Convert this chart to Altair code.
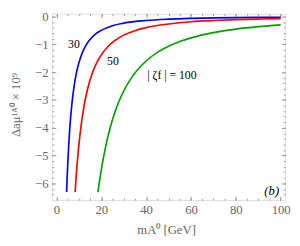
import altair as alt
import pandas as pd

# blue: |zeta_f| = 30
m_blue = [4.55, 4.75, 5, 5.5, 6, 7, 8, 9, 10, 12, 14, 17, 20, 25, 30, 40, 50, 60, 70, 80, 90, 100]
v_blue = [-6.31, -5.88, -5.40, -4.61, -3.98, -3.07, -2.45, -2.00, -1.67, -1.22, -0.93, -0.66,
          -0.50, -0.33, -0.24, -0.144, -0.096, -0.069, -0.052, -0.041, -0.033, -0.027]
# red: |zeta_f| = 50
m_red = [8.35, 8.6, 9, 10, 11, 12, 13, 14, 16, 18, 20, 23, 26, 30, 35, 40, 50, 60, 70, 80, 90, 100]
v_red = [-6.31, -6.00, -5.55, -4.63, -3.93, -3.38, -2.94, -2.58, -2.04, -1.66, -1.38, -1.08,
         -0.87, -0.67, -0.51, -0.40, -0.27, -0.19, -0.145, -0.114, -0.092, -0.076]
# green: |zeta_f| = 100
m_green = [18.52, 19.2, 20, 22, 24, 26, 28, 30, 33, 36, 40, 45, 50, 55, 60, 70, 80, 90, 100]
v_green = [-6.31, -5.93, -5.52, -4.66, -3.99, -3.46, -3.03, -2.68, -2.26, -1.93, -1.60, -1.29,
           -1.07, -0.90, -0.77, -0.58, -0.455, -0.367, -0.303]

series_names = ["30", "50", "100"]
series_colors = ["#0000ff", "#ff0000", "#00a000"]

label_text = ["30", "50", "| ζf | = 100"]
label_x = [7.8, 25.2, 51.5]
label_y = [-1.0, -1.6, -2.12]

tag_text = ["(b)"]
tag_x = [96]
tag_y = [-6.28]

x_major = [0, 20, 40, 60, 80, 100]
x_minor = [v * 5 for v in range(0, 21)]
y_major = [0, -1, -2, -3, -4, -5, -6]
y_minor = [round(-0.2 * i, 1) for i in range(0, 33)]

rows = []
for name, ms, vs in [("30", m_blue, v_blue), ("50", m_red, v_red), ("100", m_green, v_green)]:
    for m, v in zip(ms, vs):
        rows.append({"m": m, "v": v, "s": name})
df = pd.DataFrame(rows)

lab_df = pd.DataFrame({"x": label_x, "y": label_y, "t": label_text})
tag_df = pd.DataFrame({"x": tag_x, "y": tag_y, "t": tag_text})

xs = alt.Scale(domain=[-2, 102], nice=False, zero=False)
ys = alt.Scale(domain=[-6.60, 0.10], nice=False, zero=False)

GRAY = "#666666"
TICK = "#999999"
FONT = "Liberation Serif"

col = alt.Color("s:N", scale=alt.Scale(domain=series_names, range=series_colors), legend=None)

lines = alt.Chart(df).mark_line(strokeWidth=1.7, interpolate="monotone", clip=True).encode(
    x=alt.X("m:Q", scale=xs, axis=alt.Axis(
        values=x_major, orient="bottom", ticks=False, domain=False, grid=False,
        labelFont=FONT, labelFontSize=13, labelColor=GRAY, labelPadding=4,
        title="mA⁰ [GeV]", titleFont=FONT, titleFontSize=13, titleColor=GRAY,
        titleFontWeight="normal",
        titleX=117, titleY=30, titleBaseline="middle")),
    y=alt.Y("v:Q", scale=ys, axis=alt.Axis(
        values=y_major, orient="left", ticks=False, domain=False, grid=False,
        labelFont=FONT, labelFontSize=13, labelColor=GRAY, labelPadding=4,
        title="Δaμ¹ᴬ⁰ × 10⁹", titleFont=FONT, titleFontSize=13, titleColor=GRAY,
        titleFontWeight="normal", titleX=-37, titleY=93, titleBaseline="middle",
        titleAngle=270)),
    color=col,
    detail="s:N",
)


def tick_layer(xvals, xorient, xsize, yvals, yorient, ysize):
    return alt.Chart(df).mark_line(opacity=0).encode(
        x=alt.X("m:Q", scale=xs, axis=alt.Axis(
            values=xvals, orient=xorient, labels=False, domain=False, grid=False,
            ticks=True, tickSize=xsize, offset=-xsize, tickColor=TICK, tickWidth=1,
            title=None)),
        y=alt.Y("v:Q", scale=ys, axis=alt.Axis(
            values=yvals, orient=yorient, labels=False, domain=False, grid=False,
            ticks=True, tickSize=ysize, offset=-ysize, tickColor=TICK, tickWidth=1,
            title=None)),
        detail="s:N",
    )


t1 = tick_layer(x_major, "bottom", 4, y_major, "left", 4)
t2 = tick_layer(x_minor, "bottom", 2, y_minor, "left", 2)
t3 = tick_layer(x_major, "top", 4, y_major, "right", 4)
t4 = tick_layer(x_minor, "top", 2, y_minor, "right", 2)

labels = alt.Chart(lab_df).mark_text(font=FONT, fontSize=12, color="black",
                                     align="center", baseline="middle").encode(
    x=alt.X("x:Q", scale=xs, axis=None),
    y=alt.Y("y:Q", scale=ys, axis=None),
    text="t:N",
)
tag = alt.Chart(tag_df).mark_text(font=FONT, fontSize=13, color="black", fontStyle="italic",
                                  align="center", baseline="middle").encode(
    x=alt.X("x:Q", scale=xs, axis=None),
    y=alt.Y("y:Q", scale=ys, axis=None),
    text="t:N",
)

chart = alt.layer(t1, t2, t3, t4, lines, labels, tag).resolve_axis(
    x="independent", y="independent"
).properties(
    width=239, height=191,
    autosize=alt.AutoSizeParams(type="none"),
    padding={"left": 45, "top": 3, "right": 7, "bottom": 37},
).configure_view(stroke="#aaaaaa", strokeWidth=1).configure(background="white")

chart.save("out.html", embed_options={"renderer": "svg", "actions": False})
